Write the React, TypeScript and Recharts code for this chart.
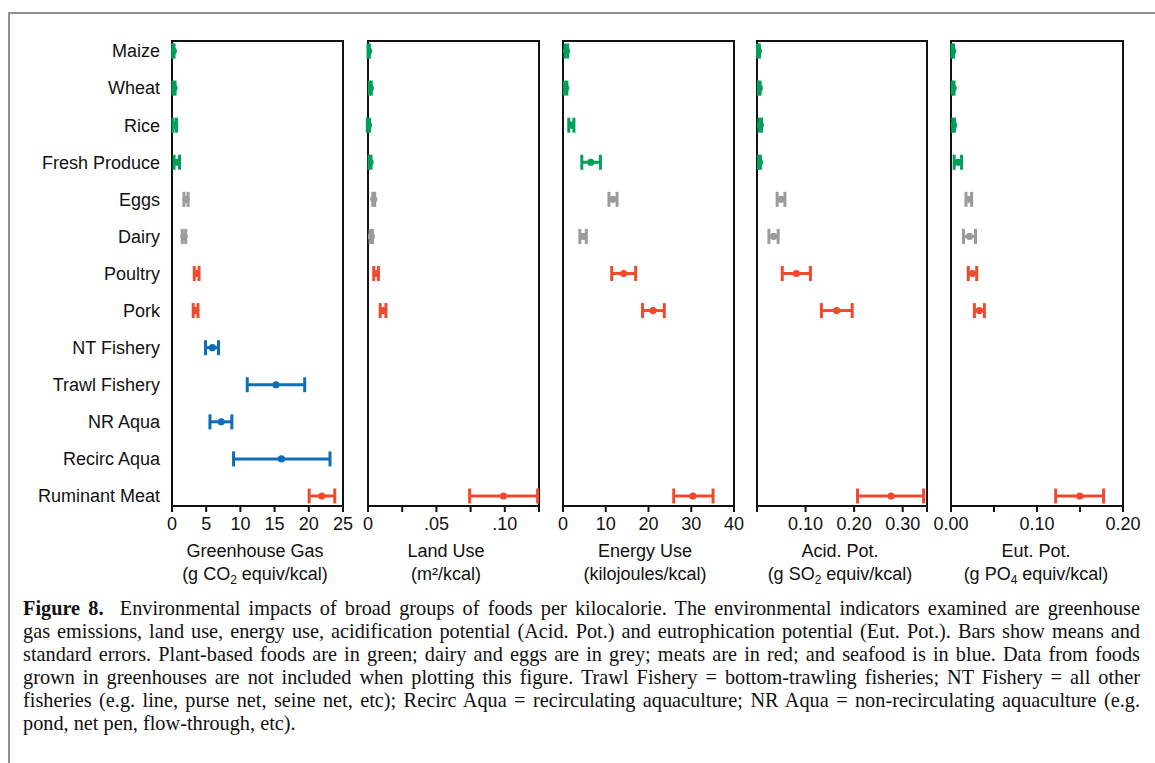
import React from 'react';
import { ScatterChart, Scatter, XAxis, YAxis, ErrorBar, ReferenceArea } from 'recharts';

const categories = [
  'Maize', 'Wheat', 'Rice', 'Fresh Produce', 'Eggs', 'Dairy', 'Poultry', 'Pork',
  'NT Fishery', 'Trawl Fishery', 'NR Aqua', 'Recirc Aqua', 'Ruminant Meat',
];
const groups = ['plant', 'plant', 'plant', 'plant', 'egg', 'egg', 'meat', 'meat', 'sea', 'sea', 'sea', 'sea', 'meat'];

// Greenhouse gas (g CO2 equiv/kcal)
const ghgMean = [0.2, 0.3, 0.4, 0.7, 2.05, 1.75, 3.6, 3.45, 5.9, 15.2, 7.2, 16.0, 21.9];
const ghgLow = [0.1, 0.15, 0.15, 0.3, 1.75, 1.5, 3.25, 3.1, 4.9, 11.0, 5.55, 9.0, 20.05];
const ghgHigh = [0.3, 0.45, 0.65, 1.1, 2.35, 2.0, 3.95, 3.8, 6.8, 19.4, 8.75, 23.1, 23.8];

// Land use (m2/kcal)
const landMean = [0.0005, 0.0017, 0.0003, 0.0015, 0.0042, 0.0024, 0.0059, 0.011, null, null, null, null, 0.099];
const landLow = [0.0, 0.001, -0.0005, 0.0008, 0.0035, 0.0015, 0.0042, 0.0089, null, null, null, null, 0.0743];
const landHigh = [0.001, 0.0024, 0.0011, 0.0022, 0.0049, 0.0033, 0.0076, 0.0131, null, null, null, null, 0.124];

// Energy use (kilojoules/kcal)
const energyMean = [0.8, 0.6, 1.95, 6.5, 11.7, 4.7, 14.2, 21.05, null, null, null, null, 30.4];
const energyLow = [0.5, 0.3, 1.35, 4.4, 10.75, 3.95, 11.4, 18.6, null, null, null, null, 25.9];
const energyHigh = [1.1, 0.9, 2.55, 8.75, 12.65, 5.45, 17.0, 23.7, null, null, null, null, 35.1];

// Acidification potential (g SO2 equiv/kcal)
const acidMean = [0.003, 0.0047, 0.0068, 0.005, 0.0495, 0.034, 0.081, 0.164, null, null, null, null, 0.276];
const acidLow = [0.001, 0.003, 0.004, 0.003, 0.0415, 0.0245, 0.052, 0.1326, null, null, null, null, 0.207];
const acidHigh = [0.005, 0.0065, 0.0095, 0.007, 0.0575, 0.0435, 0.11, 0.196, null, null, null, null, 0.343];

// Eutrophication potential (g PO4 equiv/kcal)
const eutMean = [0.002, 0.0025, 0.003, 0.008, 0.0207, 0.0215, 0.025, 0.033, null, null, null, null, 0.1497];
const eutLow = [0.001, 0.0015, 0.002, 0.0037, 0.0174, 0.0145, 0.0201, 0.0272, null, null, null, null, 0.1217];
const eutHigh = [0.003, 0.0035, 0.004, 0.0123, 0.024, 0.0285, 0.0299, 0.0388, null, null, null, null, 0.1774];

const ghgTicks = [0, 5, 10, 15, 20, 25];
const landTicks = [0, 0.025, 0.05, 0.075, 0.1, 0.125];
const energyTicks = [0, 10, 20, 30, 40];
const acidTicks = [0, 0.1, 0.2, 0.3, 0.35];
const eutTicks = [0, 0.05, 0.1, 0.15, 0.2];

const COLORS: Record<string, string> = {
  plant: '#00A05A',
  egg: '#9B9B9B',
  meat: '#EF4A2E',
  sea: '#0F6DB3',
};

const TOP = 41;
const BOTTOM = 506;
const ROW_PAD = 0.27;
const SIDE = 30;
const FONT = '"Liberation Sans", Arial, Helvetica, sans-serif';

const Panel = ({ mean, low, high, max, ticks, fmt, left, right, labels, title, unit, titleX }) => {
  const rows = mean
    .map((m, i) => (m == null ? null : { row: i, mean: m, err: [m - low[i], high[i] - m], group: groups[i] }))
    .filter(Boolean);
  const yw = labels ? 165 : 0;
  const ml = labels ? 0 : SIDE;
  const mt = 10;
  const width = ml + yw + (right - left) + SIDE;
  const height = mt + (BOTTOM - TOP) + 40;

  return (
    <>
      <div style={{ position: 'absolute', left: left - yw - ml, top: TOP - mt }}>
        <ScatterChart width={width} height={height} margin={{ top: mt, right: SIDE, bottom: 0, left: ml }}>
          <XAxis
            type="number"
            dataKey="mean"
            domain={[0, max]}
            allowDataOverflow
            ticks={ticks}
            interval={0}
            tickFormatter={fmt}
            height={40}
            axisLine={{ stroke: '#111', strokeWidth: 2 }}
            tickLine={{ stroke: '#111', strokeWidth: 2 }}
            tickSize={6}
            tickMargin={5}
            tick={{ fill: '#111', fontSize: 18, fontFamily: FONT }}
          />
          <YAxis
            type="number"
            dataKey="row"
            domain={[-ROW_PAD, categories.length - 1 + ROW_PAD]}
            allowDataOverflow
            reversed
            hide={!labels}
            width={yw}
            ticks={categories.map((_, i) => i)}
            interval={0}
            tickFormatter={(v) => categories[v]}
            axisLine={false}
            tickLine={false}
            tickSize={0}
            tickMargin={12}
            tick={{ fill: '#111', fontSize: 18, fontFamily: FONT }}
          />
          <ReferenceArea
            x1={0}
            x2={max}
            y1={-ROW_PAD}
            y2={categories.length - 1 + ROW_PAD}
            fill="none"
            stroke="#111"
            strokeWidth={2}
            ifOverflow="visible"
          />
          {Object.keys(COLORS).map((g) => (
            <Scatter
              key={g}
              data={rows.filter((r) => r.group === g)}
              isAnimationActive={false}
              shape={(p: any) => <circle cx={p.cx} cy={p.cy} r={3.6} fill={COLORS[g]} />}
            >
              <ErrorBar
                dataKey="err"
                direction="x"
                width={7.5}
                stroke={COLORS[g]}
                strokeWidth={3}
                isAnimationActive={false}
              />
            </Scatter>
          ))}
        </ScatterChart>
      </div>
      <div
        style={{
          position: 'absolute',
          left: titleX - 120,
          width: 240,
          top: 540,
          textAlign: 'center',
          fontFamily: FONT,
          fontSize: 18,
          lineHeight: '23px',
          color: '#111',
        }}
      >
        <div>{title}</div>
        <div>{unit}</div>
      </div>
    </>
  );
};

const captionLines = [
  'gas emissions, land use, energy use, acidification potential (Acid. Pot.) and eutrophication potential (Eut. Pot.). Bars show means and',
  'standard errors. Plant-based foods are in green; dairy and eggs are in grey; meats are in red; and seafood is in blue. Data from foods',
  'grown in greenhouses are not included when plotting this figure. Trawl Fishery = bottom-trawling fisheries; NT Fishery = all other',
  'fisheries (e.g. line, purse net, seine net, etc); Recirc Aqua = recirculating aquaculture; NR Aqua = non-recirculating aquaculture (e.g.',
];

const sub = { fontSize: 12, verticalAlign: -4, lineHeight: 0 };

export default function App() {
  const justify: React.CSSProperties = { textAlign: 'justify', textAlignLast: 'justify', whiteSpace: 'nowrap' };
  return (
    <div style={{ position: 'absolute', left: 0, top: 0, width: 1155, height: 763, background: '#fff', overflow: 'hidden' }}>
      <div
        style={{
          position: 'absolute',
          left: 8,
          top: 12,
          width: 1160,
          height: 770,
          borderTop: '2px solid #8f8f8f',
          borderLeft: '2px solid #8f8f8f',
        }}
      />
      <Panel
        mean={ghgMean} low={ghgLow} high={ghgHigh} max={25} ticks={ghgTicks}
        fmt={(v) => String(v)} left={172} right={343} labels
        title="Greenhouse Gas" unit={<>(g CO<span style={sub}>2</span> equiv/kcal)</>} titleX={255}
      />
      <Panel
        mean={landMean} low={landLow} high={landHigh} max={0.125} ticks={landTicks}
        fmt={(v) => (v === 0 ? '0' : v === 0.05 ? '.05' : v === 0.1 ? '.10' : '')} left={368} right={539}
        title="Land Use" unit={<>(m²/kcal)</>} titleX={446}
      />
      <Panel
        mean={energyMean} low={energyLow} high={energyHigh} max={40} ticks={energyTicks}
        fmt={(v) => String(v)} left={563} right={734}
        title="Energy Use" unit={<>(kilojoules/kcal)</>} titleX={645}
      />
      <Panel
        mean={acidMean} low={acidLow} high={acidHigh} max={0.35} ticks={acidTicks}
        fmt={(v) => (v === 0 || v === 0.35 ? '' : v.toFixed(2))} left={757} right={927}
        title="Acid. Pot." unit={<>(g SO<span style={sub}>2</span> equiv/kcal)</>} titleX={840}
      />
      <Panel
        mean={eutMean} low={eutLow} high={eutHigh} max={0.2} ticks={eutTicks}
        fmt={(v) => (v === 0 || v === 0.1 || v === 0.2 ? v.toFixed(2) : '')} left={951} right={1123}
        title="Eut. Pot." unit={<>(g PO<span style={sub}>4</span> equiv/kcal)</>} titleX={1036}
      />
      <div
        style={{
          position: 'absolute',
          left: 23,
          top: 597,
          width: 1117,
          fontFamily: '"Liberation Serif", "Times New Roman", serif',
          fontSize: 20.3,
          lineHeight: '23px',
          color: '#111',
        }}
      >
        <div style={justify}>
          <b>Figure 8.</b>&nbsp; Environmental impacts of broad groups of foods per kilocalorie. The environmental indicators examined are greenhouse
        </div>
        {captionLines.map((line, i) => (
          <div key={i} style={justify}>{line}</div>
        ))}
        <div>pond, net pen, flow-through, etc).</div>
      </div>
    </div>
  );
}
